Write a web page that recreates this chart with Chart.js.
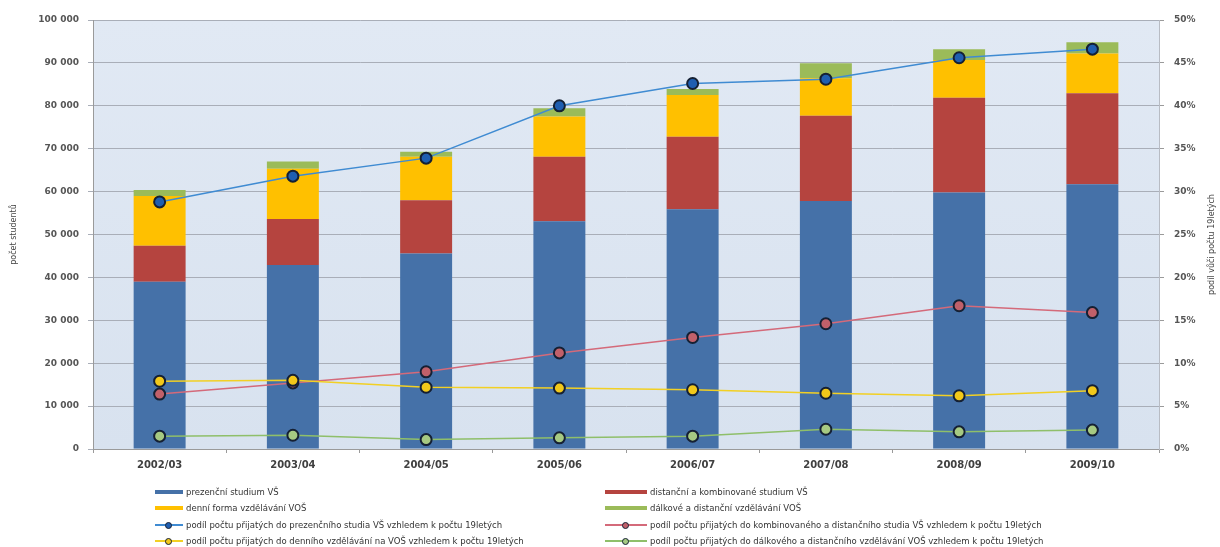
<!DOCTYPE html>
<html lang="cs">
<head>
<meta charset="utf-8">
<title>Studenti VŠ a VOŠ</title>
<script src="https://cdn.jsdelivr.net/npm/chart.js@4.4.1/dist/chart.umd.min.js"></script>
<style>
  html, body { margin: 0; padding: 0; background: #fff; }
  #wrap { position: relative; width: 1220px; height: 547px; overflow: hidden; }
  #box { position: absolute; left: 0; top: 0; width: 1220px; height: 478px; }
  #legend { position: absolute; left: 0; top: 0; width: 1220px; height: 547px; pointer-events: none;
    font: 8.5px "DejaVu Sans", sans-serif; color: #333; }
  .item { position: absolute; display: flex; align-items: center; height: 12px; white-space: nowrap; }
  .sw { position: relative; height: 12px; margin-right: 3px; flex: none; }
  .sw .bar { position: absolute; left: 0; right: 0; top: 4px; height: 4px; }
  .sw .ln { position: absolute; left: 0; right: 0; top: 5px; height: 1.5px; }
  .sw .dot { position: absolute; top: 2.5px; width: 5px; height: 5px; border-radius: 50%; border: 1.2px solid #152033; }
</style>
</head>
<body>
<div id="wrap">
  <div id="box"><canvas id="chart"></canvas></div>
  <div id="legend"></div>
</div>
<script>
const years = ["2002/03", "2003/04", "2004/05", "2005/06", "2006/07", "2007/08", "2008/09", "2009/10"];

// počty studentů (levá osa)
const vsPrezencni = [39000, 42900, 45600, 53100, 55900, 57800, 59800, 61700];
const vsKombinovane = [8400, 10700, 12400, 15000, 16900, 19900, 22100, 21200];
const vosDenni = [11600, 11700, 10100, 9400, 9700, 8700, 8800, 9300];
const vosDalkove = [1400, 1700, 1200, 1900, 1400, 3500, 2500, 2600];

// podíly vůči počtu 19letých v % (pravá osa)
const podilVsPrezencni = [28.8, 31.8, 33.9, 40.0, 42.6, 43.1, 45.6, 46.6];
const podilVsKombinovane = [6.4, 7.7, 9.0, 11.2, 13.0, 14.6, 16.7, 15.9];
const podilVosDenni = [7.9, 8.0, 7.2, 7.1, 6.9, 6.5, 6.2, 6.8];
const podilVosDalkove = [1.5, 1.6, 1.1, 1.3, 1.5, 2.3, 2.0, 2.2];

const leftTicks = { min: 0, max: 100000, step: 10000 };
const rightTicks = { min: 0, max: 50, step: 5 };

const fmtNum = (v) => String(v).replace(/\B(?=(\d{3})+(?!\d))/g, " ");
const tickFont = { family: "DejaVu Sans", size: 9, weight: "bold" };

function barSet(label, data, color) {
  return { type: "bar", label, data, backgroundColor: color, borderWidth: 0,
    yAxisID: "y", order: 10, categoryPercentage: 1, barPercentage: 0.39 };
}

function lineSet(label, data, line, fill, order) {
  return { type: "line", label, data, borderColor: line, borderWidth: 1.5,
    pointRadius: 5.5, pointHoverRadius: 5.5, pointBackgroundColor: fill,
    pointBorderColor: "#152033", pointBorderWidth: 2, yAxisID: "y2", order, tension: 0 };
}

const datasets = [
  barSet("prezenční studium VŠ", vsPrezencni, "#4571a8"),
  barSet("distanční a kombinované studium VŠ", vsKombinovane, "#b5443f"),
  barSet("denní forma vzdělávání VOŠ", vosDenni, "#ffc000"),
  barSet("dálkové a distanční vzdělávání VOŠ", vosDalkove, "#9bbb59"),
  lineSet("podíl počtu přijatých do prezenčního studia VŠ vzhledem k počtu 19letých", podilVsPrezencni, "#3f8bd2", "#1f5eb0", 1),
  lineSet("podíl počtu přijatých do kombinovaného a distančního studia VŠ vzhledem k počtu 19letých", podilVsKombinovane, "#d46a7a", "#c0606a", 4),
  lineSet("podíl počtu přijatých do denního vzdělávání na VOŠ vzhledem k počtu 19letých", podilVosDenni, "#f2d024", "#f2c81a", 2),
  lineSet("podíl počtu přijatých do dálkového a distančního vzdělávání VOŠ vzhledem k počtu 19letých", podilVosDalkove, "#8fbf6a", "#a6c982", 3)
];

const plotBackground = {
  id: "plotBackground",
  beforeDraw(chart) {
    const { ctx, chartArea: a } = chart;
    const g = ctx.createLinearGradient(0, a.top, 0, a.bottom);
    g.addColorStop(0, "#e1e9f4");
    g.addColorStop(1, "#d8e2ef");
    ctx.save();
    ctx.fillStyle = g;
    ctx.fillRect(a.left, a.top, a.right - a.left, a.bottom - a.top);
    ctx.restore();
  }
};

// titulek pravé osy čtený zdola nahoru jako v Excelu
const rightTitle = {
  id: "rightTitle",
  afterDraw(chart) {
    const { ctx, chartArea: a } = chart;
    ctx.save();
    ctx.translate(1212, (a.top + a.bottom) / 2 + 10);
    ctx.rotate(-Math.PI / 2);
    ctx.font = "8px 'DejaVu Sans'";
    ctx.fillStyle = "#444";
    ctx.textAlign = "center";
    ctx.textBaseline = "middle";
    ctx.fillText("podíl vůči počtu 19letých", 0, 0);
    ctx.restore();
  }
};

const chart = new Chart(document.getElementById("chart"), {
  type: "bar",
  data: { labels: years, datasets },
  options: {
    responsive: true,
    maintainAspectRatio: false,
    animation: false,
    layout: { padding: { top: 20, left: 0, right: 0, bottom: 0 } },
    plugins: { legend: { display: false }, tooltip: { enabled: false } },
    scales: {
      x: {
        stacked: true,
        grid: { drawOnChartArea: false, drawTicks: true, tickLength: 4, color: "#9a9a9a" },
        border: { color: "#9a9a9a" },
        ticks: { color: "#404040", font: { family: "DejaVu Sans", size: 10, weight: "bold" }, padding: 6, maxRotation: 0 },
        afterFit: (s) => { s.height = 29; }
      },
      y: {
        stacked: true,
        min: leftTicks.min,
        max: leftTicks.max,
        ticks: { stepSize: leftTicks.step, callback: (v) => fmtNum(v), color: "#555", font: tickFont, padding: 9 },
        grid: { color: "#a9aeb8", tickLength: 5 },
        border: { color: "#9a9a9a" },
        title: { display: true, text: "počet studentů", color: "#444", font: { family: "DejaVu Sans", size: 8 }, padding: { top: 9, bottom: 0 } },
        afterFit: (s) => { s.width = 93; }
      },
      y2: {
        position: "right",
        min: rightTicks.min,
        max: rightTicks.max,
        ticks: { stepSize: rightTicks.step, callback: (v) => v + "%", color: "#555", font: tickFont, padding: 10 },
        grid: { drawOnChartArea: false, tickLength: 5, color: "#9a9a9a" },
        border: { color: "#b8bcc4" },
        afterFit: (s) => { s.width = 61; }
      }
    }
  },
  plugins: [plotBackground, rightTitle]
});

// legenda ve dvou sloupcích pod grafem
const legendRows = [492, 508, 525, 541];
const legendCols = [{ x: 155, w: 28 }, { x: 605, w: 42 }];
const legendHost = document.getElementById("legend");
chart.data.datasets.forEach((ds, i) => {
  const col = legendCols[i % 2];
  const row = legendRows[Math.floor(i / 2)];
  const item = document.createElement("div");
  item.className = "item";
  item.style.left = col.x + "px";
  item.style.top = (row - 6) + "px";
  const sw = document.createElement("span");
  sw.className = "sw";
  sw.style.width = col.w + "px";
  if (ds.type === "bar") {
    sw.innerHTML = `<span class="bar" style="background:${ds.backgroundColor}"></span>`;
  } else {
    sw.innerHTML = `<span class="ln" style="background:${ds.borderColor}"></span>` +
      `<span class="dot" style="left:${col.w / 2 - 3.7}px;background:${ds.pointBackgroundColor}"></span>`;
  }
  const txt = document.createElement("span");
  txt.textContent = ds.label;
  item.appendChild(sw);
  item.appendChild(txt);
  legendHost.appendChild(item);
});
</script>
</body>
</html>
